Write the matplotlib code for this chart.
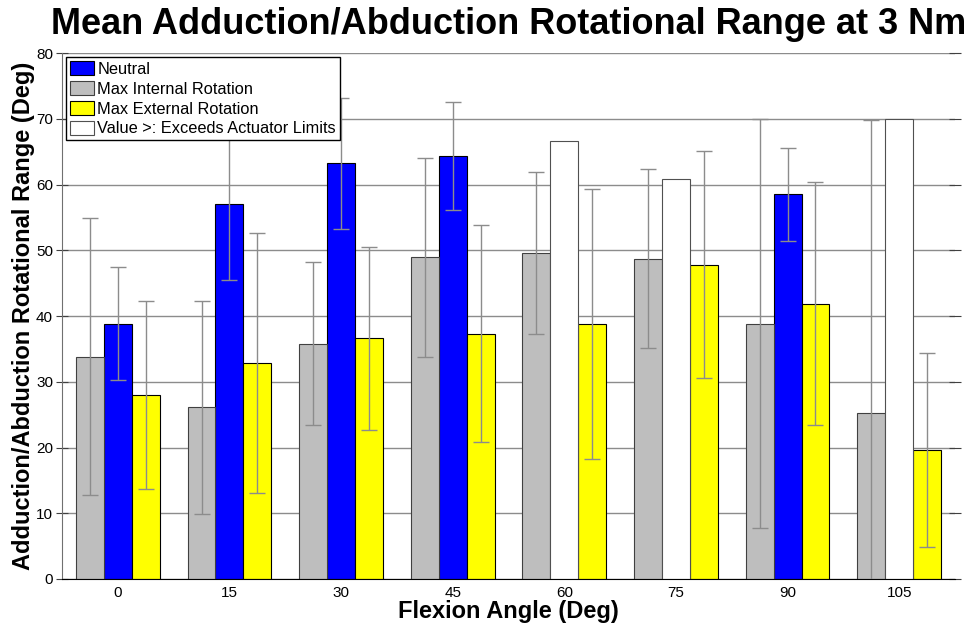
import numpy as np
import matplotlib.pyplot as plt

plt.rcParams['font.family'] = ['Liberation Sans', 'DejaVu Sans']

# flexion angles (deg)
angles = [0, 15, 30, 45, 60, 75, 90, 105]

# mean rotational range and standard deviation per condition
internal_mean = [33.8, 26.1, 35.8, 48.9, 49.6, 48.7, 38.8, 25.3]
internal_sd = [21.1, 16.2, 12.4, 15.1, 12.3, 13.6, 31.1, 44.5]

neutral_mean = [38.8, 57.0, 63.2, 64.4, np.nan, np.nan, 58.5, np.nan]
neutral_sd = [8.6, 11.5, 10.0, 8.2, np.nan, np.nan, 7.1, np.nan]

external_mean = [28.0, 32.9, 36.6, 37.3, 38.8, 47.8, 41.9, 19.6]
external_sd = [14.3, 19.8, 13.9, 16.5, 20.5, 17.3, 18.5, 14.8]

# neutral trials that hit the actuator limit (lower bound only)
exceeds = [np.nan, np.nan, np.nan, np.nan, 66.6, 60.9, np.nan, 70.0]

x = np.array(angles, dtype=float)
w = 3.75
err_kw = dict(ecolor='#8c8c8c', elinewidth=1.0, capsize=6, capthick=1.0)

fig = plt.figure(figsize=(9.72, 6.29), dpi=100)
ax = fig.add_axes([0.0638, 0.0795, 0.9187, 0.8362])

ax.bar(x, neutral_mean, w, color='#0000ff', edgecolor='black', linewidth=0.8,
       label='Neutral', zorder=2)
ax.bar(x - w, internal_mean, w, color='#bebebe', edgecolor='#404040', linewidth=0.8,
       label='Max Internal Rotation', zorder=2)
ax.bar(x + w, external_mean, w, color='#ffff00', edgecolor='black', linewidth=0.8,
       label='Max External Rotation', zorder=2)
ax.bar(x, exceeds, w, color='white', edgecolor='#505050', linewidth=0.8,
       label='Value >: Exceeds Actuator Limits', zorder=2)

ax.errorbar(x - w, internal_mean, yerr=internal_sd, fmt='none', zorder=3, **err_kw)
ax.errorbar(x, neutral_mean, yerr=neutral_sd, fmt='none', zorder=3, **err_kw)
ax.errorbar(x + w, external_mean, yerr=external_sd, fmt='none', zorder=3, **err_kw)

ax.set_xlim(-7.5, 112.5)
ax.set_ylim(0, 80)
ax.set_xticks(angles)
ax.set_yticks(np.arange(0, 81, 10))
ax.yaxis.grid(True, color='#8c8c8c', linewidth=1.0)
ax.set_axisbelow(True)

ax.spines['top'].set_visible(False)
ax.spines['right'].set_visible(False)
ax.spines['left'].set_color('#707070')
ax.spines['bottom'].set_color('black')
ax.tick_params(axis='y', direction='inout', length=9, color='#404040',
               labelsize=11, right=True, pad=2)
ax.tick_params(axis='x', direction='in', length=0, labelsize=11, pad=5)

ax.set_title('Mean Adduction/Abduction Rotational Range at 3 Nm',
             fontsize=26, fontweight='bold', pad=14)
ax.set_xlabel('Flexion Angle (Deg)', fontsize=17, fontweight='bold', labelpad=0)
ax.set_ylabel('Adduction/Abduction Rotational Range (Deg)', fontsize=17,
              fontweight='bold', labelpad=1)

leg = ax.legend(loc='upper left', fontsize=11.8, fancybox=False, framealpha=1,
                edgecolor='black', borderaxespad=0.25, borderpad=0.25,
                handlelength=1.45, handleheight=0.95, handletextpad=0.2,
                labelspacing=0.25)
leg.get_frame().set_linewidth(1.0)

fig.savefig('out.png', dpi=100)
